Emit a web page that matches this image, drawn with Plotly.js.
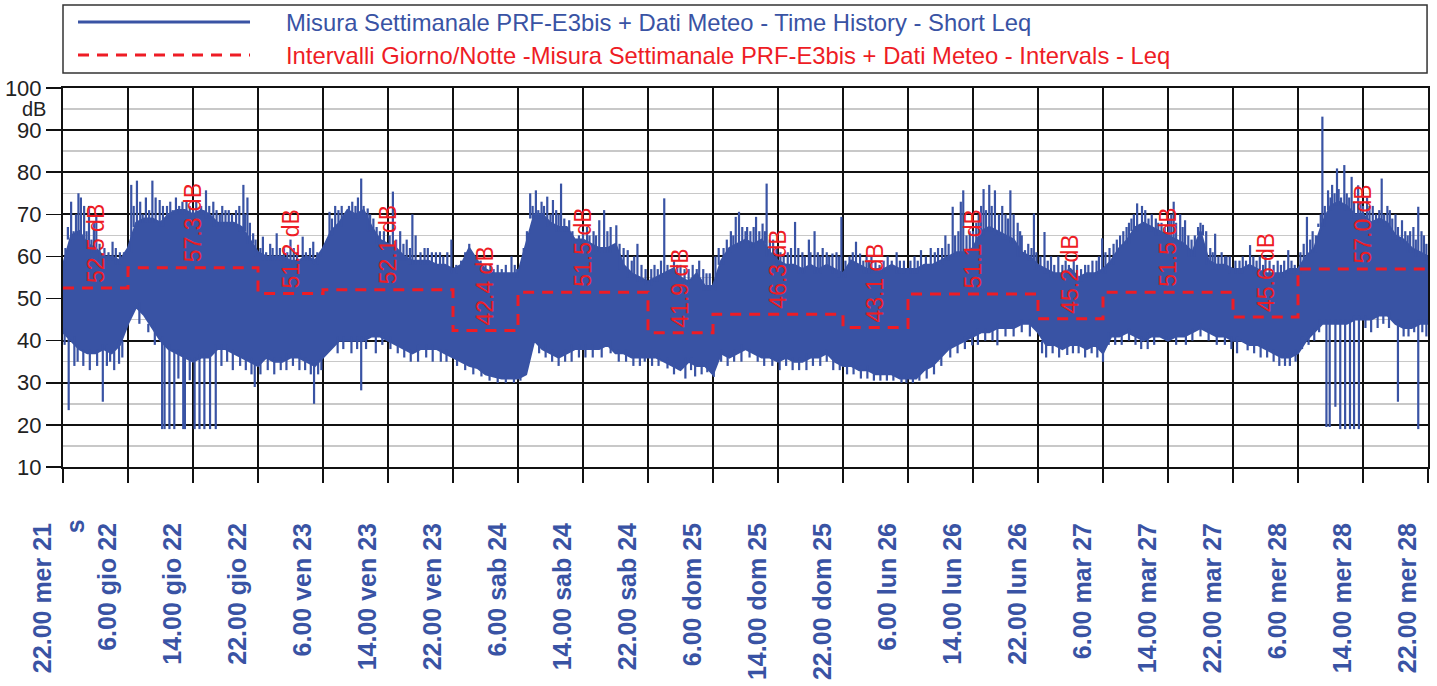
<!DOCTYPE html>
<html>
<head>
<meta charset="utf-8">
<script src="https://cdn.plot.ly/plotly-3.0.1.min.js"></script>
<style>html,body{margin:0;padding:0;background:#fff;}</style>
</head>
<body>
<div id="chart" style="width:1437px;height:686px;"></div>
<script>
// ---- DATA (hours from 22.00 mer 21) ----
const hours = [];
for (let h = 0; h <= 168; h++) hours.push(h);

// upper envelope of the Short Leq time history (dB), one value per hour
const shortLeqHigh = [
 58,65,66,63,62,60,60,59,62,68,69,69,68,70,71,71,70,71,70,68,68,68,67,64,61,
 60,60,60,59,59,60,59,62,66,68,71,70,71,67,64,63,62,60,59,59,59,58,58,57,
 58,62,59,57,56,56,56,56,63,70,70,68,67,67,64,64,63,62,62,63,58,56,55,54,
 55,56,57,55,54,56,53,53,59,62,63,64,63,64,61,59,58,58,57,58,57,58,57,56,
 59,58,57,57,57,58,57,57,57,58,58,59,60,61,61,62,66,67,66,65,64,61,60,58,
 57,56,56,57,55,56,56,57,59,62,64,67,68,67,66,65,64,63,61,66,59,58,58,57,
 57,58,57,56,56,56,57,57,60,62,68,72,73,72,70,70,68,69,68,65,64,62,61,60
];
// lower envelope (dB), one value per hour
const shortLeqLow = [
 42,40,38,37,37,38,37,39,44,48,46,43,40,38,37,36,35,36,36,38,38,37,36,35,34,
 36,35,35,36,36,35,34,36,38,40,40,40,40,41,41,40,39,38,37,38,38,38,37,36,
 35,34,33.5,32,31.5,31,31,31,32,40,38,37,36,37,38,38,38,38,39,37,37,36,36,36,
 36,35,34,33,35,34,34,32,37,36,37,38,37,36,36,35,36,35,35,36,36,37,35,34,
 34,33,33,32,32,32,31,31,31,33,34,36,38,39,40,41,42,42,43,43,43,44,44,42,
 39,39,38,39,39,38,39,37,41,41,42,41,40,41,41,40,41,41,42,43,42,41,41,40,
 40,39,39,38,37,36,36,37,40,42,44,44,44,44,45,45,45,46,46,44,43,43,44,44
];

// short upward peaks above the dense band: [time h, level dB]
const peaks = [
 [0.6,67],[1.0,73],[1.9,75],[2.2,74],[3.2,72],[3.8,68],[4.1,70],[5.1,62],[6.1,63.5],[7.0,61],
 [0.3,62],[1.3,66],[1.6,70],[2.6,72],[2.9,66],[3.5,64],[4.5,63],[5.6,61],[6.5,62],[7.5,60],
 [8.4,77],[9.1,78],[10.2,74],[11.0,78],[11.9,73.4],[12.8,72],[13.9,74],[15.2,73],[17.6,75.7],[18.5,73],
 [19.6,72],[20.4,71],[21.3,71],[22.2,77],[22.7,74],[23.4,65.5],
 [8.7,72],[9.5,73],[9.8,70],[10.6,71],[11.4,74],[12.3,72],[13.2,73],[13.5,71],[14.3,72],[14.7,73],
 [15.6,72],[16.0,71],[16.4,73],[17.0,72],[17.3,71],[18.0,72],[18.9,71],[19.3,70],[20.0,71],[20.8,70],
 [21.7,72],[22.4,70],[23.0,68],[23.7,64],
 [24.6,64.7],[25.5,63],[26.3,65.5],[27.2,62],[28.0,64],[29.5,64.7],[30.8,63.5],
 [24.3,62],[25.0,61],[25.8,62],[26.7,62],[27.6,61],[28.4,62],[28.8,61],[29.9,61],[30.4,62],[31.3,61],[31.7,60],
 [32.8,70.6],[33.5,72],[35.2,72],[36.7,78.5],[37.5,71.4],[38.2,69],[40.6,75.4],[41.5,66],[43.0,70],[43.4,65],
 [44.5,62],[45.9,61],[47.8,64],
 [33.1,69],[33.9,71],[34.3,72],[34.7,70],[35.6,73],[36.0,72],[36.3,74],[37.0,72],[37.8,70],[38.6,67],
 [39.0,66],[39.5,66],[40.2,65],[41.0,64],[41.9,63],[42.3,64],[42.7,62],[44.0,61],[44.9,62],[45.4,61],
 [46.4,61],[46.8,60],[47.3,61],
 [49.0,59],[50.0,63],[53.5,58],[55.2,60],
 [48.4,58],[49.5,60],[50.4,61],[50.8,60],[51.4,59],[52.0,58],[52.6,58],[53.0,57],[54.0,57],[54.5,58],[55.6,58],[55.9,57],
 [57.5,75],[58.2,75.7],[58.9,73],[59.6,74.2],[60.3,73.4],[61.3,77.3],[62.3,68.6],[63.1,61.5],[64.5,67],[66.0,68.6],
 [66.6,71],[68.1,67.4],[69.5,61.5],[70.7,63],
 [56.7,60],[57.1,66],[57.8,72],[58.5,71],[59.2,72],[60.0,70],[60.7,71],[61.0,70],[61.7,69],[62.0,67],
 [62.7,66],[63.5,65],[64.0,66],[64.8,65],[65.3,66],[65.6,65],[67.0,66],[67.4,67],[68.5,63],[69.0,62],
 [70.0,59],[70.3,60],[71.2,58],[71.7,57],
 [73.6,59],[74.0,73.8],[74.7,56.5],[76.0,58],[78.3,59],[79.6,56],
 [72.4,57],[72.8,58],[73.2,57],[74.4,58],[75.2,59],[75.6,58],[76.5,57],[77.0,57],[77.5,58],[78.0,57],[78.8,57],[79.2,56],
 [82.8,69.4],[83.2,70.6],[84.2,67],[85.3,69.4],[86.1,67.8],[86.6,77.3],[87.4,64],[90.1,68.2],[91.8,64],[92.5,66],
 [93.5,62],[94.7,60.7],[95.8,69.4],
 [80.3,60],[80.7,62],[81.3,62],[81.7,64],[82.2,66],[82.5,65],[83.6,67],[84.0,66],[84.6,66],[85.0,67],
 [85.7,66],[86.4,66],[87.0,64],[87.8,62],[88.3,61],[88.7,60],[89.2,61],[89.6,62],[90.5,62],[91.0,61],
 [91.3,60],[92.0,61],[92.9,61],[93.2,60],[94.0,61],[94.3,60],[95.2,61],[95.5,60],
 [97.6,63.5],[98.1,60.7],[99.5,60],[102.6,61],[103.5,59],
 [96.3,59],[96.8,60],[97.2,61],[98.5,59],[98.9,60],[99.2,59],[100.0,59],[100.5,58],[101.0,59],[101.5,60],[102.0,59],[103.0,59],
 [105.6,61.5],[106.8,62],[108.6,65],[109.5,71.8],[110.5,73],[110.8,75.7],[112.0,66],[113.3,76],[114.0,77],[114.7,75.7],
 [115.6,72],[116.6,75.7],[117.5,68],[118.4,61.5],[119.5,70.2],
 [104.3,59],[104.8,60],[105.2,59],[106.2,60],[107.3,61],[107.7,62],[108.2,62],[109.0,63],[109.8,65],[110.2,66],
 [111.2,65],[111.6,66],[112.4,68],[112.7,70],[113.0,72],[113.6,71],[114.3,72],[115.2,70],[116.0,70],[116.3,69],
 [117.0,70],[117.8,66],[118.0,65],[118.8,63],[119.2,62],[119.8,61],
 [120.8,65.8],[122.5,60],[124.4,59],[126.7,59],[127.9,64.3],
 [120.3,60],[121.2,59],[121.6,60],[122.0,58],[123.0,58],[123.4,59],[123.8,58],[124.8,58],[125.3,57],[125.8,58],
 [126.2,58],[127.2,59],[127.5,60],
 [130.5,66],[131.5,69],[132.2,72.6],[132.8,72],[133.6,69],[135.2,68],[136.7,73],[137.5,70],[138.1,68.6],[139.7,67],
 [140.3,67.5],[141.8,65.4],[143.2,60],
 [128.3,61],[128.8,62],[129.3,63],[129.7,64],[130.1,65],[130.9,67],[131.2,68],[131.8,70],[133.2,71],[134.0,70],
 [134.5,69],[134.8,68],[135.6,67],[136.1,69],[136.4,70],[137.0,68],[137.8,67],[138.5,65],[138.9,64],[139.3,65],
 [140.0,68],[140.7,66],[141.2,62],[141.5,61],[142.2,60],[142.6,61],[143.0,60],[143.6,60],
 [144.8,59],[146.1,62.7],[148.0,60],[149.5,59],[150.8,61.5],
 [144.3,59],[145.2,60],[145.6,59],[146.5,60],[146.9,59],[147.3,60],[147.7,58],[148.5,59],[149.0,58],[149.9,58],
 [150.3,59],[151.2,59],[151.6,58],
 [153.1,69.4],[154.5,67.8],[155.0,93.2],[155.7,75.7],[156.2,77],[156.8,80.9],[157.7,81.7],[158.6,78.9],[159.4,76.9],[160.5,74],
 [161.2,72],[162.3,78.5],[163.3,71],[164.0,70],[164.8,68.6],[165.8,66],[166.8,71.8],[167.5,65],
 [152.3,61],[152.7,63],[153.5,64],[153.8,66],[154.2,65],[154.8,70],[155.3,72],[156.0,74],[156.5,75],[157.0,76],
 [157.3,74],[158.0,75],[158.3,74],[158.9,73],[159.7,73],[160.0,72],[160.8,72],[161.6,70],[162.0,71],[162.6,70],
 [163.0,72],[163.6,69],[164.3,67],[165.2,66],[165.5,65],[166.2,67],[166.5,64],[167.2,66],[167.8,63]
];

// short downward dips below the dense band: [time h, level dB]
const dips = [
 [0.7,23.5],[1.4,34],[4.9,25.5],[6.9,34.5],[12.2,19],[12.5,19],[13.1,19],[13.7,19],[14.2,31],[14.8,19],
 [15.0,19],[15.6,30.6],[16.2,19],[16.8,19],[17.4,19],[18.1,19],[18.8,19],
 [23.6,29],[30.9,25],[36.7,28.2],[38.5,37],[74.4,33.4],[76.6,31],[80.1,31.4],[111.9,38.9],[115.0,38.9],
 [120.5,37],[123.6,36.6],[135.8,40],[145.8,37.7],
 [155.5,19.5],[155.9,19.5],[156.6,24.3],[157.2,19],[157.8,19],[158.4,19],[158.9,19],[159.5,19],[164.3,25.5],[166.8,19],
 [0.2,39],[1.8,35],[2.5,34],[3.3,33],[4.2,34],[5.4,34],[5.8,35],[6.3,33],[7.3,36],
 [9.4,44],[10.5,42],[11.3,39],[19.5,34],[20.2,35],[20.9,33],[21.8,34],[22.5,33],[23.2,32],
 [24.3,32],[25.2,33],[26.0,32],[26.8,33],[27.5,33],[28.3,34],[29.1,33],[29.8,33],[30.5,32],[31.4,32],[31.8,33],
 [33.8,37],[34.5,38],[35.5,37],[36.2,38],[37.3,38],[39.3,39],[40.3,38],[41.2,37],[42.0,36],[42.8,35],
 [43.7,35],[44.7,36],[45.5,35],[46.5,35],[47.2,35],
 [48.5,34],[49.5,33],[50.5,32],[51.5,31.5],[52.5,30.5],[53.5,30],[54.5,30],[55.5,30],[56.3,30.5],
 [58.6,37],[59.4,36],[60.2,35],[61.0,34],[61.8,35],[62.6,35],[63.5,36],[64.3,36],[65.2,36],[66.3,36],
 [67.4,37],[68.4,35],[69.3,35],[70.2,34],[71.0,34],[71.6,35],
 [72.5,34],[73.3,34],[75.2,32],[75.8,33],[77.3,33],[77.8,31.5],[78.6,32],[79.3,32.5],
 [81.0,35],[81.8,34],[82.6,35],[83.5,35],[84.5,36],[85.5,35],[86.3,34],[87.3,34],[88.2,33],[89.0,34],
 [89.8,33],[90.6,33],[91.5,33],[92.3,34],[93.2,34],[94.0,35],[94.8,33],[95.6,33],
 [96.5,32],[97.3,32],[98.2,31],[99.0,31],[99.8,30.5],[100.6,30.5],[101.4,30.5],[102.2,30.5],[103.2,30],[103.8,30],
 [104.6,30],[105.4,30.5],[106.3,31],[107.2,32],[108.1,34],[109.2,36],[110.1,37],[111.0,38],[112.6,39],[113.5,40],
 [114.4,40],[116.0,41],[117.0,41],[118.0,42],[119.0,41],
 [121.0,36],[121.8,37],[122.6,36],[124.3,37],[125.0,37],[125.8,36],[126.6,37],[127.3,36],[128.0,35],
 [128.7,39],[129.5,39],[130.3,39],[131.2,40],[132.0,39],[132.7,38],[133.5,38],[134.3,39],[137.0,39],[138.2,39],
 [139.0,40],[140.0,41],[141.0,40],[142.0,39],[143.0,39],[143.8,38],
 [144.5,37],[146.6,37],[147.4,36],[148.2,36],[149.0,35],[149.7,34],[150.4,34],[151.0,34],[151.7,35],
 [152.5,38],[153.3,39],[154.0,40],[154.6,42],[160.3,43],[161.0,42],[161.8,43],[162.5,44],[163.2,43],[165.0,41],
 [165.6,41],[166.3,42],[167.3,42],[167.8,41]
];

// day/night intervals Leq
const intervalBounds = [0,8,24,32,48,56,72,80,96,104,120,128,144,152,168];
const intervalLeq = [52.5,57.3,51.2,52.1,42.4,51.5,41.9,46.3,43.1,51.1,45.2,51.5,45.6,57.0];

// tick labels
const tickHours = [0,8,16,24,32,40,48,56,64,72,80,88,96,104,112,120,128,136,144,152,160,168];
const tickLabels = [
 "22.00 mer 21","6.00 gio 22","14.00 gio 22","22.00 gio 22","6.00 ven 23","14.00 ven 23",
 "22.00 ven 23","6.00 sab 24","14.00 sab 24","22.00 sab 24","6.00 dom 25","14.00 dom 25",
 "22.00 dom 25","6.00 lun 26","14.00 lun 26","22.00 lun 26","6.00 mar 27","14.00 mar 27",
 "22.00 mar 27","6.00 mer 28","14.00 mer 28","22.00 mer 28"
];
const yTicks = [10,20,30,40,50,60,70,80,90,100];

const seriesNames = [
 "Misura Settimanale PRF-E3bis + Dati Meteo - Time History - Short Leq",
 "Intervalli Giorno/Notte -Misura Settimanale PRF-E3bis + Dati Meteo - Intervals - Leq"
];

// ---- BUILD ----
const BLUE = "#3953a4";
const RED = "#ee1c25";
const FONT = "Liberation Sans, Arial, sans-serif";

const spikeX = [], spikeY = [];
peaks.forEach(p => {
  const base = shortLeqHigh[Math.round(p[0])] - 1;
  spikeX.push(p[0], p[0], null); spikeY.push(base, p[1], null);
});
dips.forEach(p => {
  const base = shortLeqLow[Math.round(p[0])] + 1;
  spikeX.push(p[0], p[0], null); spikeY.push(base, p[1], null);
});

const stepY = intervalLeq.concat([intervalLeq[intervalLeq.length - 1]]);

const traces = [
  {x: hours, y: shortLeqLow, type: "scatter", mode: "lines",
   line: {color: BLUE, width: 2}, hoverinfo: "skip", showlegend: false},
  {x: hours, y: shortLeqHigh, type: "scatter", mode: "lines", fill: "tonexty",
   fillcolor: BLUE, line: {color: BLUE, width: 2}, name: seriesNames[0], showlegend: false},
  {x: spikeX, y: spikeY, type: "scatter", mode: "lines", connectgaps: false,
   line: {color: BLUE, width: 2.2}, hoverinfo: "skip", showlegend: false},
  {x: intervalBounds, y: stepY, type: "scatter", mode: "lines",
   line: {color: RED, width: 3, dash: "11px,8px", shape: "hv"}, name: seriesNames[1], showlegend: false}
];

const annotations = [];
for (let i = 0; i < intervalLeq.length; i++) {
  const mid = (intervalBounds[i] + intervalBounds[i + 1]) / 2;
  annotations.push({
    x: mid, y: intervalLeq[i], xref: "x", yref: "y",
    text: intervalLeq[i].toFixed(1) + " dB", showarrow: false,
    textangle: -90, xanchor: "center", yanchor: "bottom", yshift: 3,
    font: {family: FONT, size: 23, color: RED}
  });
}
// y unit
annotations.push({x: 0, y: 95, xref: "paper", yref: "y", text: "dB", showarrow: false,
  xanchor: "right", yanchor: "middle", xshift: -15,
  font: {family: FONT, size: 20, color: "#222"}});
// stray "s" label under axis
annotations.push({x: 1.5, y: 0, xref: "x", yref: "paper", text: "s", showarrow: false,
  textangle: -90, xanchor: "center", yanchor: "top", yshift: -50,
  font: {family: FONT, size: 25, color: BLUE, weight: "bold"}});
// legend texts
annotations.push({x: 0.1619, y: 1.174, xref: "paper", yref: "paper", text: seriesNames[0],
  showarrow: false, xanchor: "left", yanchor: "middle",
  font: {family: FONT, size: 23.8, color: BLUE}});
annotations.push({x: 0.1619, y: 1.087, xref: "paper", yref: "paper", text: seriesNames[1],
  showarrow: false, xanchor: "left", yanchor: "middle",
  font: {family: FONT, size: 23.8, color: RED}});

const shapes = [
  {type: "rect", xref: "paper", yref: "paper", x0: 0, x1: 0.9993, y0: 1.0396, y1: 1.219,
   line: {color: "#333", width: 1.5}, fillcolor: "rgba(0,0,0,0)"},
  {type: "line", xref: "paper", yref: "paper", x0: 0.011, x1: 0.137, y0: 1.1741, y1: 1.1741,
   line: {color: BLUE, width: 3}},
  {type: "line", xref: "paper", yref: "paper", x0: 0.011, x1: 0.137, y0: 1.0871, y1: 1.0871,
   line: {color: RED, width: 3, dash: "11px,8px"}}
];

const layout = {
  width: 1437, height: 686,
  margin: {l: 63, r: 9, t: 88, b: 219, pad: 0},
  paper_bgcolor: "#fff", plot_bgcolor: "#fff",
  showlegend: false,
  xaxis: {
    range: [0, 168], tickmode: "array", tickvals: tickHours, ticktext: tickLabels,
    tickangle: -90, ticks: "outside", ticklen: 14, tickwidth: 1.5, tickcolor: "#111",
    showgrid: true, gridcolor: "#111", gridwidth: 2,
    showline: true, mirror: true, linecolor: "#111", linewidth: 2, zeroline: false,
    ticklabelshift: -20, ticklabelstandoff: 30,
    tickfont: {family: FONT, size: 25, color: BLUE, weight: "bold"}
  },
  yaxis: {
    range: [10, 100], tickmode: "array", tickvals: yTicks,
    ticks: "outside", ticklen: 15, tickwidth: 1.5, tickcolor: "#111",
    showgrid: true, gridcolor: "#111", gridwidth: 2,
    minor: {dtick: 5, tick0: 0, showgrid: true, gridcolor: "#c8c8c8", gridwidth: 1.5, ticks: ""},
    showline: true, mirror: true, linecolor: "#111", linewidth: 2, zeroline: false,
    tickfont: {family: FONT, size: 22, color: "#222"}
  },
  annotations: annotations,
  shapes: shapes
};

Plotly.newPlot("chart", traces, layout, {staticPlot: true, displayModeBar: false});
</script>
</body>
</html>
